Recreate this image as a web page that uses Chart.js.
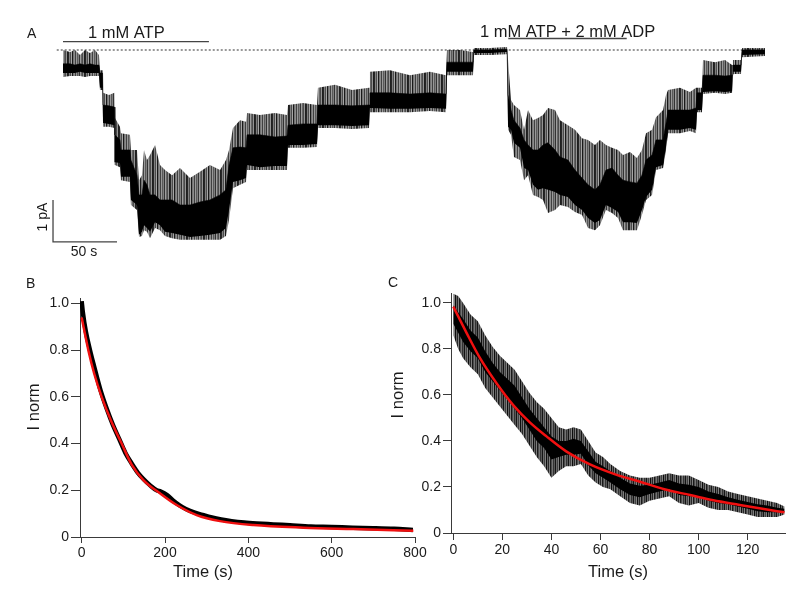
<!DOCTYPE html>
<html><head><meta charset="utf-8">
<script src="https://cdn.jsdelivr.net/npm/chart.js@4/dist/chart.umd.min.js"></script>
<style>
html,body{margin:0;padding:0;background:#fff;}
#wrap{position:relative;width:800px;height:589px;overflow:hidden;background:#fff;}
canvas{position:absolute;left:0;top:0;}
</style></head>
<body><div id="wrap">
<canvas id="cA" width="800" height="589"></canvas>
<canvas id="cB" width="800" height="589"></canvas>
<canvas id="cC" width="800" height="589"></canvas>
</div>
<script>
// ---------- Panel A : single-channel current trace (time in s, current in pA) ----------
const tA = [0,5.5,9.4,13.3,17.2,21.1,25,28.1,28.9,30.9,31.3,35.9,40.2,40.6,44.5,45.3,52.3,53.1,57.8,59.4,61.7,63.3,65.6,68,71.9,75.8,79.7,85.2,91.4,99.2,107,114.8,122.7,127.3,129.7,132.8,138.3,143,143.8,153.9,165.6,175,175.8,187.5,198.4,199.2,212.5,225.8,239.1,239.8,255.5,271.1,286.7,299.2,300,310.2,320.3,321.1,333.6,346.1,346.9,347.7,350,352.3,357,360.2,363.3,367.2,371.1,375,378.9,384.4,388.3,394.5,400,405.5,410.2,415.6,419.5,424.2,428.9,433.6,437.5,443,448.4,452.3,455.5,460.2,463.3,468.8,471.1,472.7,482,489.8,494.5,495.3,499.2,500,509.4,517.2,522.7,523.4,529.7,530.5,548.4];
const aSpikeTop = [0,-0.05,0,-0.12,0,-0.07,0,-0.12,-0.48,-0.48,-1.02,-1.07,-1.02,-1.62,-1.83,-1.98,-2.02,-2.38,-2.38,-3.1,-2.98,-2.38,-2.62,-2.5,-2.26,-2.74,-2.86,-2.98,-2.81,-3.05,-2.9,-2.74,-2.86,-2.62,-2.38,-1.86,-1.67,-1.71,-1.5,-1.55,-1.5,-1.55,-1.31,-1.26,-1.31,-0.9,-0.83,-0.95,-0.9,-0.52,-0.48,-0.6,-0.52,-0.6,0,0,-0.05,0.05,0.05,0.07,0.07,-0.24,-1.19,-1.31,-1.43,-1.9,-1.43,-1.67,-1.62,-1.55,-1.38,-1.43,-1.67,-1.79,-1.9,-2.1,-2.14,-2.26,-2.14,-2.26,-2.33,-2.38,-2.5,-2.43,-2.57,-2.38,-1.98,-1.9,-1.6,-1.43,-1.07,-0.95,-0.9,-1.0,-0.9,-0.9,-0.9,-0.24,-0.29,-0.24,-0.36,-0.24,-0.24,0.05,0.05];
const aCoreTop = [-0.33,-0.33,-0.36,-0.33,-0.36,-0.33,-0.36,-0.36,-0.55,-0.55,-1.31,-1.33,-1.36,-2.02,-2.14,-2.38,-2.38,-2.62,-2.98,-3.45,-3.45,-3.1,-3.21,-3.45,-3.45,-3.57,-3.57,-3.57,-3.69,-3.69,-3.62,-3.57,-3.45,-3.33,-2.74,-2.33,-2.31,-2.33,-2.02,-2.02,-2.07,-2.05,-1.79,-1.76,-1.76,-1.31,-1.31,-1.33,-1.31,-1.02,-1.02,-1.05,-1.02,-1.05,-0.29,-0.29,-0.29,0,0,0.02,0.02,-1.07,-1.43,-1.67,-1.86,-2.14,-2.26,-2.38,-2.38,-2.26,-2.21,-2.38,-2.55,-2.62,-2.86,-3.05,-3.21,-3.33,-3.21,-2.86,-2.81,-2.98,-3.1,-3.14,-3.17,-2.98,-2.62,-2.5,-2.14,-2.14,-1.74,-1.43,-1.43,-1.43,-1.38,-1.02,-1.02,-0.6,-0.6,-0.62,-0.6,-0.36,-0.36,0,0];
const aCoreBot = [-0.55,-0.55,-0.55,-0.52,-0.55,-0.55,-0.55,-0.55,-0.9,-0.9,-1.74,-1.76,-1.79,-2.67,-2.69,-3.02,-3.02,-3.57,-3.69,-4.4,-4.33,-4.17,-4.24,-4.33,-4.1,-4.17,-4.33,-4.36,-4.4,-4.45,-4.43,-4.4,-4.36,-4.24,-3.81,-3.14,-3.1,-3.05,-2.74,-2.79,-2.76,-2.76,-2.26,-2.26,-2.24,-1.79,-1.79,-1.81,-1.79,-1.38,-1.4,-1.4,-1.38,-1.4,-0.52,-0.52,-0.52,-0.07,-0.07,-0.05,-0.05,-1.83,-1.9,-2.21,-2.33,-2.81,-2.86,-3.21,-3.33,-3.29,-3.33,-3.38,-3.45,-3.5,-3.69,-3.81,-4.0,-4.12,-4.05,-3.69,-3.76,-3.86,-4.1,-4.1,-4.12,-3.81,-3.5,-3.33,-2.79,-2.74,-2.31,-1.9,-1.9,-1.86,-1.9,-1.43,-1.43,-1.0,-0.98,-1.0,-0.98,-0.52,-0.52,-0.12,-0.1];
const aSpikeBot = [-0.64,-0.62,-0.62,-0.62,-0.64,-0.62,-0.62,-0.62,-0.95,-0.95,-1.83,-1.83,-1.86,-2.74,-2.79,-3.1,-3.14,-3.69,-3.81,-4.45,-4.43,-4.29,-4.33,-4.48,-4.24,-4.29,-4.43,-4.48,-4.52,-4.52,-4.52,-4.52,-4.52,-4.43,-4.05,-3.29,-3.21,-3.14,-2.86,-2.86,-2.86,-2.86,-2.33,-2.33,-2.31,-1.86,-1.86,-1.88,-1.86,-1.48,-1.48,-1.48,-1.45,-1.48,-0.6,-0.6,-0.6,-0.12,-0.12,-0.1,-0.1,-1.9,-2.02,-2.55,-2.62,-3.1,-2.98,-3.45,-3.5,-3.57,-3.88,-3.81,-3.69,-3.74,-3.86,-3.93,-4.24,-4.29,-4.17,-3.81,-3.88,-4.0,-4.29,-4.29,-4.29,-3.93,-3.57,-3.45,-2.86,-2.81,-2.38,-1.98,-1.98,-1.93,-1.98,-1.48,-1.48,-1.05,-1.02,-1.05,-1.02,-0.57,-0.57,-0.17,-0.14];
const baselineT = [-4.9, 548.4];            // dotted zero-current line
const atpBarT = [0, 114];   const atpBarLevel = 0.2;
const adpBarT = [347.9, 440.4]; const adpBarLevel = 0.274;
const scaleBarT = [-7.8, -7.8, 42.2];       // 50 s
const scaleBarI = [-3.57, -4.57, -4.57];    // 1 pA

// ---------- Panel B ----------
const tB = [0,3,10,20,30,45,60,75,90,105,120,135,150,165,180,190,205,220,235,250,270,290,310,335,360,390,420,460,500,550,600,650,700,750,795];
const bTrace = [1.01,0.96,0.88,0.80,0.73,0.63,0.55,0.48,0.42,0.36,0.315,0.275,0.245,0.22,0.20,0.195,0.18,0.155,0.135,0.12,0.105,0.095,0.085,0.075,0.068,0.062,0.058,0.054,0.05,0.045,0.043,0.040,0.038,0.035,0.03];
const tBFit = [0,16,30,48,70,96,120,148,188,228,276,332,412,532,652,796];
const bFit = [0.94,0.80,0.70,0.60,0.50,0.40,0.31,0.244,0.187,0.137,0.094,0.068,0.051,0.04,0.034,0.027];
const xTicksB = [0,200,400,600,800];

// ---------- Panel C ----------
const tC = [0,2,4,7,10,13,16,19,22,25,28,31,34,37,40,43,46,49,52,55,58,61,64,68,72,76,80,84,88,92,96,100,104,108,112,116,120,124,128,132,135];
const cUpper = [1.04,1.03,1.0,0.95,0.92,0.86,0.81,0.77,0.74,0.71,0.66,0.61,0.57,0.54,0.50,0.46,0.45,0.46,0.45,0.40,0.35,0.33,0.30,0.27,0.25,0.24,0.24,0.25,0.26,0.25,0.25,0.23,0.21,0.20,0.18,0.17,0.16,0.15,0.14,0.13,0.115];
const cCoreUp = [0.99,0.96,0.93,0.88,0.85,0.79,0.74,0.70,0.67,0.64,0.59,0.54,0.50,0.46,0.42,0.40,0.40,0.41,0.40,0.355,0.31,0.29,0.27,0.24,0.215,0.205,0.21,0.22,0.23,0.215,0.21,0.20,0.18,0.17,0.155,0.145,0.135,0.125,0.12,0.11,0.105];
const cCoreLo = [0.91,0.87,0.83,0.79,0.76,0.70,0.66,0.62,0.58,0.54,0.50,0.45,0.40,0.37,0.32,0.33,0.34,0.34,0.345,0.295,0.26,0.24,0.22,0.19,0.165,0.155,0.17,0.18,0.19,0.165,0.16,0.16,0.14,0.13,0.125,0.115,0.105,0.095,0.09,0.09,0.09];
const cLower = [0.86,0.80,0.76,0.72,0.69,0.63,0.59,0.55,0.51,0.47,0.43,0.38,0.33,0.29,0.24,0.27,0.29,0.29,0.30,0.25,0.22,0.20,0.19,0.16,0.13,0.12,0.14,0.15,0.16,0.13,0.12,0.13,0.11,0.10,0.10,0.09,0.08,0.07,0.07,0.07,0.08];
const tCFit = [0,5.4,10.9,17.7,24.5,31.3,38,46,55.7,66,76.1,86,96.5,106,116.8,126,135];
const cFit = [0.984,0.87,0.76,0.65,0.555,0.48,0.42,0.355,0.298,0.255,0.223,0.19,0.165,0.142,0.122,0.105,0.09];
const xTicksC = [0,20,40,60,80,100,120];
const yTicksBC = [0,0.2,0.4,0.6,0.8,1.0];

// ---------- helpers ----------
const FONT = "'Liberation Sans', Arial, Helvetica, sans-serif";
Chart.defaults.font.family = FONT;
const pts = (xs, ys) => xs.map((x, i) => ({x: x, y: ys[i]}));
function stripes(canvasId, alphas) {
  const c = document.createElement('canvas');
  c.width = alphas.length; c.height = 2;
  const g = c.getContext('2d');
  alphas.forEach((a, i) => { g.fillStyle = 'rgba(0,0,0,' + a + ')'; g.fillRect(i, 0, 1, 2); });
  return document.getElementById(canvasId).getContext('2d').createPattern(c, 'repeat');
}
function textPlugin(items) {
  return { id: 'txt', afterDraw(chart) {
    const ctx = chart.ctx;
    items.forEach(it => {
      ctx.save();
      ctx.font = it.font; ctx.fillStyle = '#1a1a1a';
      ctx.textAlign = it.align || 'center'; ctx.textBaseline = it.base || 'alphabetic';
      ctx.translate(it.x, it.y); if (it.rot) ctx.rotate(it.rot);
      ctx.fillText(it.text, 0, 0);
      ctx.restore();
    });
  }};
}
const base = {
  responsive: false, animation: false, events: [],
  plugins: { legend: { display: false }, tooltip: { enabled: false } },
  elements: { point: { radius: 0 }, line: { tension: 0 } }
};
function axisX(min, max, ticks, tickLen) {
  return {
    type: 'linear', min: min, max: max,
    afterBuildTicks: s => { s.ticks = ticks.map(v => ({value: v})); },
    afterFit: s => { s.height = 30; },
    grid: { drawOnChartArea: false, drawTicks: true, tickLength: tickLen, color: '#3a3a3a', lineWidth: 1 },
    border: { display: true, color: '#3a3a3a', width: 1 },
    ticks: { font: { size: 14, family: FONT }, color: '#1a1a1a', padding: 2, maxRotation: 0, autoSkip: false,
             callback: v => String(v) }
  };
}
function axisY(min, max, tickLen) {
  return {
    type: 'linear', min: min, max: max,
    afterBuildTicks: s => { s.ticks = yTicksBC.map(v => ({value: v})); },
    afterFit: s => { s.width = 60; },
    grid: { drawOnChartArea: false, drawTicks: true, tickLength: tickLen, color: '#3a3a3a', lineWidth: 1 },
    border: { display: true, color: '#3a3a3a', width: 1 },
    ticks: { font: { size: 14, family: FONT }, color: '#1a1a1a', padding: 2, autoSkip: false,
             callback: v => (v === 0 ? '0' : v.toFixed(1)) }
  };
}

// ---------- Chart A ----------
const patA = stripes('cA', [0.85,0.5,0.7,0.35,0.9,0.55,0.45,0.75,0.4,0.65,0.5,0.8,0.38,0.6,0.7,0.42,0.88]);
new Chart(document.getElementById('cA'), {
  type: 'line',
  data: { datasets: [
    { data: pts(tA, aSpikeBot), borderWidth: 0, fill: false, order: 4 },
    { data: pts(tA, aSpikeTop), borderWidth: 0, fill: '-1', backgroundColor: patA, order: 3 },
    { data: pts(tA, aCoreBot), borderWidth: 0, fill: false, order: 2 },
    { data: pts(tA, aCoreTop), borderWidth: 0.6, borderColor: '#000', fill: '-1', backgroundColor: '#000', order: 1 },
    { data: pts(baselineT, [0, 0]), borderColor: '#333', borderWidth: 1, borderDash: [2, 2], fill: false, order: 5 },
    { data: pts(atpBarT, [atpBarLevel, atpBarLevel]), borderColor: '#444', borderWidth: 1.3, fill: false, order: 0 },
    { data: pts(adpBarT, [adpBarLevel, adpBarLevel]), borderColor: '#444', borderWidth: 1.3, fill: false, order: 0 },
    { data: pts(scaleBarT, scaleBarI), borderColor: '#444', borderWidth: 1.3, fill: false, order: 0 }
  ]},
  options: Object.assign({}, base, {
    layout: { padding: { left: 11.8, right: 20.2, top: 8, bottom: 329 } },
    scales: { x: { type: 'linear', min: -40, max: 560, display: false },
              y: { type: 'linear', min: -5, max: 1, display: false } }
  }),
  plugins: [textPlugin([
    { text: 'A', x: 27, y: 38, align: 'left', font: '14px ' + FONT },
    { text: '1 mM ATP', x: 88, y: 37.5, align: 'left', font: '16.5px ' + FONT },
    { text: '1 mM ATP + 2 mM ADP', x: 480, y: 37, align: 'left', font: '16.5px ' + FONT },
    { text: '1 pA', x: 43, y: 217, base: 'middle', rot: -Math.PI / 2, font: '14px ' + FONT },
    { text: '50 s', x: 84, y: 252, base: 'middle', font: '14px ' + FONT }
  ])]
});

// ---------- Chart B ----------
new Chart(document.getElementById('cB'), {
  type: 'line',
  data: { datasets: [
    { data: pts(tBFit, bFit), borderColor: '#f01010', borderWidth: 2.5, cubicInterpolationMode: 'monotone', fill: false, order: 0 },
    { data: pts(tB, bTrace), borderColor: '#000', borderWidth: 4.5, cubicInterpolationMode: 'monotone', fill: false, order: 1 }
  ]},
  options: Object.assign({}, base, {
    layout: { padding: { left: 20, right: 385, top: 298.8, bottom: 22 } },
    scales: { x: axisX(-4, 800, xTicksB, 6), y: axisY(0, 1.02, 9) }
  }),
  plugins: [textPlugin([
    { text: 'B', x: 26, y: 288, align: 'left', font: '14px ' + FONT },
    { text: 'I norm', x: 34, y: 407, base: 'middle', rot: -Math.PI / 2, font: '16.5px ' + FONT },
    { text: 'Time (s)', x: 203, y: 572, base: 'middle', font: '16.5px ' + FONT }
  ])]
});

// ---------- Chart C ----------
const patC = stripes('cC', [0.95,0.6,0.85,0.5,0.9,0.7,0.55,0.8,0.65,0.92,0.58,0.75,0.5]);
new Chart(document.getElementById('cC'), {
  type: 'line',
  data: { datasets: [
    { data: pts(tC, cLower), borderWidth: 0, fill: false, order: 4 },
    { data: pts(tC, cUpper), borderWidth: 0, fill: '-1', backgroundColor: patC, order: 3 },
    { data: pts(tC, cCoreLo), borderWidth: 0, fill: false, order: 2 },
    { data: pts(tC, cCoreUp), borderWidth: 0, fill: '-1', backgroundColor: '#000', order: 1 },
    { data: pts(tCFit, cFit), borderColor: '#f01010', borderWidth: 2.5, cubicInterpolationMode: 'monotone', fill: false, order: 0 }
  ]},
  options: Object.assign({}, base, {
    layout: { padding: { left: 391, right: 15, top: 293.3, bottom: 26 } },
    scales: { x: axisX(-0.94, 135.2, xTicksC, 7), y: axisY(0, 1.042, 8) }
  }),
  plugins: [textPlugin([
    { text: 'C', x: 388, y: 287, align: 'left', font: '14px ' + FONT },
    { text: 'I norm', x: 398, y: 395, base: 'middle', rot: -Math.PI / 2, font: '16.5px ' + FONT },
    { text: 'Time (s)', x: 618, y: 572, base: 'middle', font: '16.5px ' + FONT }
  ])]
});
</script>
</body></html>
